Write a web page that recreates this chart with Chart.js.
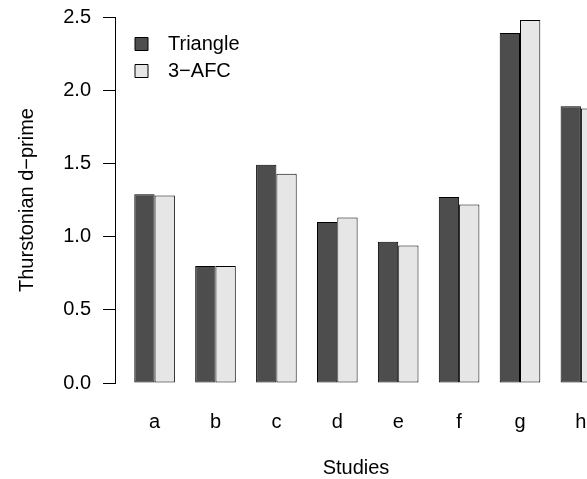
<!DOCTYPE html>
<html>
<head>
<meta charset="utf-8">
<script src="https://cdn.jsdelivr.net/npm/chart.js@4/dist/chart.umd.min.js"></script>
<style>
  html, body { margin: 0; padding: 0; background: #fff; }
  #wrap { width: 587px; height: 479px; }
</style>
</head>
<body>
<div id="wrap"><canvas id="chart"></canvas></div>
<script>
const studies = ['a', 'b', 'c', 'd', 'e', 'f', 'g', 'h'];
const triangle = [1.29, 0.80, 1.49, 1.10, 0.965, 1.27, 2.39, 1.89];
const afc = [1.28, 0.80, 1.43, 1.13, 0.94, 1.22, 2.48, 1.875];
const yTicks = [0, 0.5, 1, 1.5, 2, 2.5];

const FONT = { family: '"Liberation Sans", Arial, Helvetica, sans-serif', size: 20 };

function toPoints(values) {
  return values.map((v, i) => ({ x: i, y: v }));
}

// legend sits inside the plot like R's legend('topleft')
const legendNudge = {
  id: 'legendNudge',
  afterLayout(chart) {
    const lg = chart.legend;
    if (!lg) return;
    lg.left += 13;
    lg.top += 27;
  }
};

new Chart(document.getElementById('chart'), {
  type: 'bar',
  data: {
    datasets: [
      {
        label: 'Triangle',
        data: toPoints(triangle),
        backgroundColor: '#4d4d4d',
        borderColor: '#000',
        borderWidth: 1,
        borderSkipped: false
      },
      {
        label: '3\u2212AFC',
        data: toPoints(afc),
        backgroundColor: '#e6e6e6',
        borderColor: '#000',
        borderWidth: 1,
        borderSkipped: false
      }
    ]
  },
  options: {
    responsive: true,
    maintainAspectRatio: false,
    animation: false,
    layout: { autoPadding: false, padding: { top: 17, left: 0, right: 0, bottom: 0 } },
    datasets: { bar: { categoryPercentage: 2 / 3, barPercentage: 1 } },
    scales: {
      x: {
        type: 'linear',
        offset: false,
        min: -0.65,
        max: 7.1,
        afterBuildTicks(scale) {
          scale.ticks = studies.map((_, i) => ({ value: i }));
        },
        afterFit(scale) {
          scale.height = 96;
          scale.paddingLeft = 0;
          scale.paddingRight = 0;
        },
        border: { display: false },
        grid: { display: false, drawTicks: false },
        ticks: {
          font: FONT,
          color: '#000',
          padding: 27,
          maxRotation: 0,
          autoSkip: false,
          callback: (v) => studies[v] ?? ''
        },
        title: {
          display: true,
          // R centres this on the full (cropped) plot region, a bit right of ours
          text: '\u2002Studies',
          font: FONT,
          color: '#000',
          padding: { top: 0, bottom: -1 }
        }
      },
      y: {
        min: 0,
        max: 2.5,
        afterBuildTicks(scale) {
          scale.ticks = yTicks.map(v => ({ value: v }));
        },
        afterFit(scale) {
          scale.width = 115;
          scale.paddingTop = 0;
          scale.paddingBottom = 0;
        },
        border: { display: true, color: '#000', width: 1 },
        grid: {
          display: true,
          drawOnChartArea: false,
          drawTicks: true,
          tickLength: 12,
          tickColor: '#000',
          tickWidth: 1
        },
        ticks: {
          font: FONT,
          color: '#000',
          padding: 12,
          callback: (v) => v.toFixed(1)
        },
        title: {
          display: true,
          text: 'Thurstonian d\u2212prime',
          font: FONT,
          color: '#000',
          padding: { top: 15, bottom: 0 }
        }
      }
    },
    plugins: {
      legend: {
        position: 'chartArea',
        align: 'start',
        labels: {
          font: FONT,
          color: '#000',
          boxWidth: 13,
          boxHeight: 13,
          padding: 7,
          generateLabels(chart) {
            return Chart.defaults.plugins.legend.labels.generateLabels(chart)
              .map(item => ({ ...item, text: '\u2002' + item.text }));
          }
        }
      },
      tooltip: { enabled: false }
    }
  },
  plugins: [legendNudge]
});
</script>
</body>
</html>
